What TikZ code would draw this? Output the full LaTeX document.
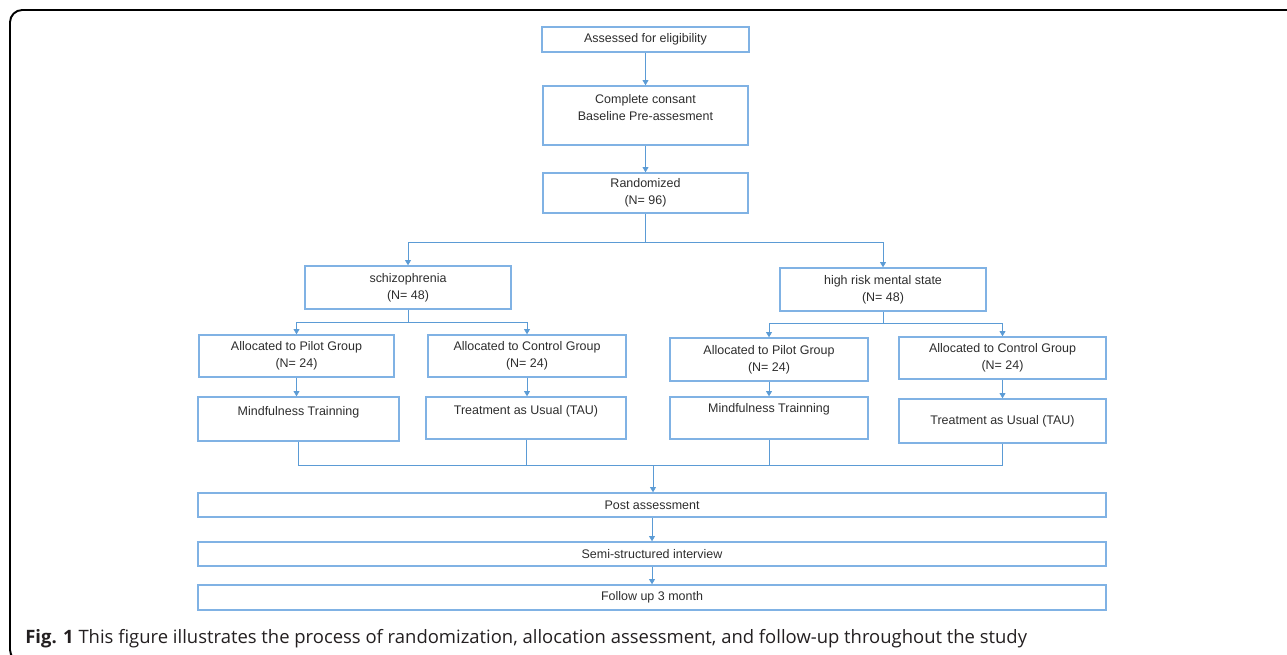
\documentclass[tikz,border=0pt]{standalone}
\usepackage{fontspec}
\setmainfont{Liberation Sans}
\newfontfamily\capfont{Open Sans}
\usetikzlibrary{arrows.meta}
\definecolor{flowline}{RGB}{91,155,213}
\definecolor{flowbox}{RGB}{128,178,228}
\definecolor{flowtext}{RGB}{45,45,45}
\definecolor{captext}{RGB}{35,31,32}

\begin{document}
\begin{tikzpicture}[x=0.02cm,y=-0.02cm,
    box/.style={draw=flowbox,line width=0.8pt,rectangle,align=center,inner sep=1pt,
        text=flowtext,font=\fontsize{7.1pt}{9.6pt}\selectfont},
    link/.style={draw=flowline,line width=0.5pt},
    arr/.style={link,-{Triangle[width=3.4pt,length=3pt]}}]
    \useasboundingbox (0,0) rectangle (1287,655);
    \draw[line width=1.1pt,rounded corners=7pt] (1300,10) -- (10,10) -- (10,662) -- (30,662);

    % screening
    \node[box,minimum width=4.14cm,minimum height=0.5cm] (elig) at (645.5,39.5) {Assessed for eligibility};
    \node[box,minimum width=4.1cm,minimum height=1.18cm,text depth=9.5pt] (consent) at (645.5,115.5) {Complete consant\\Baseline Pre-assesment};
    \node[box,minimum width=4.1cm,minimum height=0.8cm] (rand) at (645.5,193) {Randomized\\(N= 96)};

    % groups
    \node[box,minimum width=4.12cm,minimum height=0.86cm] (schiz) at (408,287.5) {schizophrenia\\(N= 48)};
    \node[box,minimum width=4.12cm,minimum height=0.86cm] (hrisk) at (883,289.5) {high risk mental state\\(N= 48)};

    \node[box,minimum width=3.9cm,minimum height=0.84cm] (pilot1) at (296.5,356) {Allocated to Pilot Group\\(N= 24)};
    \node[box,minimum width=3.96cm,minimum height=0.84cm] (ctrl1) at (527,356) {Allocated to Control Group\\(N= 24)};
    \node[box,minimum width=3.96cm,minimum height=0.86cm] (pilot2) at (769,359.5) {Allocated to Pilot Group\\(N= 24)};
    \node[box,minimum width=4.14cm,minimum height=0.84cm] (ctrl2) at (1002.5,358) {Allocated to Control Group\\(N= 24)};

    \node[box,minimum width=4.02cm,minimum height=0.88cm,text depth=9.5pt] (mind1) at (298.5,419) {Mindfulness Trainning};
    \node[box,minimum width=4cm,minimum height=0.84cm,text depth=9.5pt] (treat1) at (526,418) {Treatment as Usual (TAU)};
    \node[box,minimum width=3.96cm,minimum height=0.84cm,text depth=11.5pt] (mind2) at (769,418) {Mindfulness Trainning};
    \node[box,minimum width=4.14cm,minimum height=0.88cm] (treat2) at (1002.5,421) {Treatment as Usual (TAU)};

    % follow-up
    \node[box,minimum width=18.16cm,minimum height=0.48cm] (post) at (652,505) {Post assessment};
    \node[box,minimum width=18.16cm,minimum height=0.48cm] (semi) at (652,554) {Semi-structured interview};
    \node[box,minimum width=18.16cm,minimum height=0.5cm] (follow) at (652,597.5) {Follow up 3 month};

    \coordinate (split) at (645.5,242);
    \coordinate (split1) at (408,322);
    \coordinate (split2) at (883,323.5);
    \coordinate (merge) at (653,465);

    \draw[arr] (elig) -- (consent);
    \draw[arr] (consent) -- (rand);
    \draw[link] (rand) -- (split);
    \draw[arr] (split) -| (schiz);
    \draw[arr] (split) -| (hrisk);

    \draw[link] (schiz) -- (split1);
    \draw[arr] (split1) -| (pilot1);
    \draw[arr] (split1) -| (ctrl1);
    \draw[link] (hrisk) -- (split2);
    \draw[arr] (split2) -| (pilot2);
    \draw[arr] (split2) -| (ctrl2);

    \draw[arr] (pilot1) -- (pilot1 |- mind1.north);
    \draw[arr] (ctrl1) -- (ctrl1 |- treat1.north);
    \draw[arr] (pilot2) -- (mind2);
    \draw[arr] (ctrl2) -- (treat2);

    \draw[link] (mind1) |- (merge);
    \draw[link] (treat2) |- (merge);
    \draw[link] (treat1) -- (treat1 |- merge);
    \draw[link] (mind2) -- (mind2 |- merge);
    \draw[arr] (merge) -- (merge |- post.north);
    \draw[arr] (post) -- (semi);
    \draw[arr] (semi) -- (follow);

    \node[anchor=base west,inner sep=0,text=captext,font=\capfont\fontsize{10.5pt}{12pt}\selectfont] (caption) at (25,643)
        {\textbf{Fig. 1} This figure illustrates the process of randomization, allocation assessment, and follow-up throughout the study};
\end{tikzpicture}
\end{document}
